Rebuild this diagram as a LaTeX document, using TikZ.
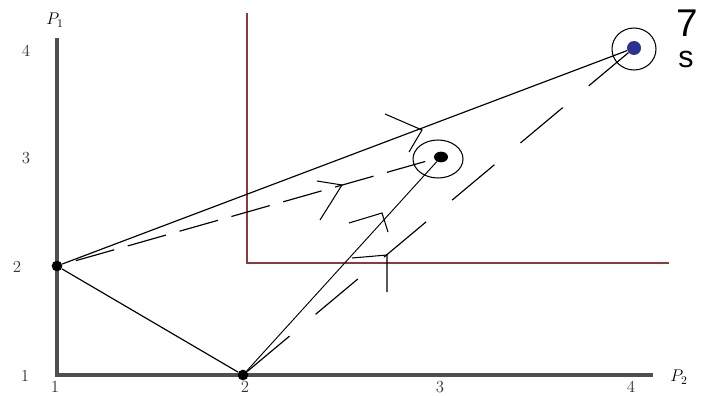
\documentclass[tikz,border=0pt]{standalone}
\usepackage{fontspec}
\newfontfamily\labelsans{Liberation Sans}
\usetikzlibrary{arrows.meta, positioning, calc, shapes.geometric}
\definecolor{payAxis}{HTML}{4F4F4F}
\definecolor{payRegion}{HTML}{8C3A3A}
\definecolor{payBlue}{HTML}{2E3192}

\begin{document}
\begin{tikzpicture}[
  x=0.03cm, y=-0.03cm,
  axisline/.style={draw=payAxis, line width=2.8pt, line join=miter},
  regionline/.style={draw=payRegion, line width=1.1pt},
  solidline/.style={line width=1pt},
  thinline/.style={line width=0.8pt},
  dashline/.style={line width=1pt, dash pattern=on 47pt off 29pt},
  dashlineb/.style={line width=1pt, dash pattern=on 34pt off 12pt, dash phase=34pt},
  chev/.style={line width=0.9pt},
  tick/.style={font=\Large, text=black!80, inner sep=0pt},
  dot/.style={circle, fill=black, inner sep=0pt, minimum size=0.32cm},
  ring/.style={draw, line width=0.9pt},
]
\useasboundingbox (0,0) rectangle (704,396);

% axes
\draw[axisline] (57,38) -- (57,375) -- (653,375);
\node[font=\Large] (p1) at (55,20) {$P_1$};
\node[font=\Large] (p2) at (679,377) {$P_2$};

% tick labels
\node[tick] (y4) at (26,51) {4};
\node[tick] (y3) at (26,158) {3};
\node[tick] (y2) at (17,267) {2};
\node[tick] (y1) at (25,376) {1};
\node[tick, anchor=south] (x1) at (55,393) {1};
\node[tick, anchor=south] (x2) at (245,393) {2};
\node[tick, anchor=south] (x3) at (440,393) {3};
\node[tick, anchor=south] (x4) at (631,393) {4};

% region corner
\draw[regionline] (247,13) -- (247,263) -- (669,263);

% points
\node[dot] (A) at (57,266) {};
\node[dot] (B) at (243,375) {};
\node[ellipse, fill=black, inner sep=0pt, minimum width=0.42cm, minimum height=0.32cm] (C) at (441,157) {};
\node[circle, fill=payBlue, inner sep=0pt, minimum size=0.42cm] (D) at (634,48) {};
\draw[ring] (438,159) ellipse [x radius=0.75cm, y radius=0.57cm];
\draw[ring] (634,49) ellipse [x radius=0.66cm, y radius=0.63cm];

% paths
\draw[solidline] (A) -- (D);
\draw[solidline] (A) -- (B);
\draw[thinline] (B) -- (C);
\draw[dashlineb] (A) -- (C);
\draw[dashline] (B) -- (D);

% direction marks
\draw[chev] (385,114) -- (422,130) -- (409,152);
\draw[chev] (317,181) -- (342,185) -- (320,220);
\draw[chev] (349,223) -- (382,213) -- (388,232);
\draw[chev] (352,258) -- (387,255) -- (387,292);

% label
\node[font=\labelsans\fontsize{33}{33}\selectfont, anchor=base, inner sep=0pt] (seven) at (687,37) {7};
\node[font=\labelsans\fontsize{26}{26}\selectfont, anchor=base, inner sep=0pt] (s) at (686,67) {s};
\end{tikzpicture}
\end{document}
